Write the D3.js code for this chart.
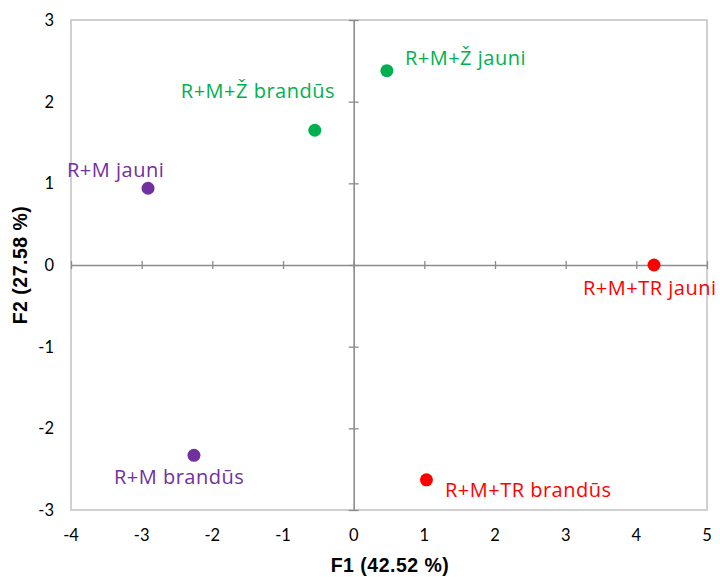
<!DOCTYPE html>
<html>
<head>
<meta charset="utf-8">
<script src="https://cdn.jsdelivr.net/npm/d3@7"></script>
<style>
  html, body { margin: 0; padding: 0; background: #fff; }
  svg { display: block; }
</style>
</head>
<body>
<svg id="chart" width="720" height="577"></svg>
<script>
// Sample groups and their scores on the first two factors
const labels = ["R+M+Ž jauni", "R+M+Ž brandūs", "R+M jauni", "R+M brandūs", "R+M+TR jauni", "R+M+TR brandūs"];
const f1 = [0.47, -0.55, -2.91, -2.26, 4.25, 1.03];
const f2 = [2.38, 1.65, 0.94, -2.33, 0.0, -2.63];
const colors = ["#00b050", "#00b050", "#7030a0", "#7030a0", "#ff0000", "#ff0000"];
const xTicks = [-4, -3, -2, -1, 0, 1, 2, 3, 4, 5];
const yTicks = [-3, -2, -1, 0, 1, 2, 3];
// label offsets relative to each point
const labelDx = [18, -134, -81, -80, -71, 18.5];
const labelDy = [-5.5, -32, -11.5, 28.5, 29.5, 17];

const svg = d3.select("#chart");
const plotL = 71, plotR = 707, plotT = 20, plotB = 510;

const x = d3.scaleLinear().domain([-4, 5]).range([plotL, plotR]);
const y = d3.scaleLinear().domain([-3, 3]).range([plotB, plotT]);

// plot frame
svg.append("rect")
  .attr("x", plotL).attr("y", plotT)
  .attr("width", plotR - plotL).attr("height", plotB - plotT)
  .attr("fill", "none").attr("stroke", "#d0d0d0").attr("stroke-width", 2);

// axes through the origin
const xAxis = d3.axisBottom(x).tickValues(xTicks).tickSize(0).tickFormat("");
const yAxis = d3.axisLeft(y).tickValues(yTicks).tickSize(0).tickFormat("");

const gx = svg.append("g").attr("transform", `translate(0,${y(0)})`).call(xAxis);
const gy = svg.append("g").attr("transform", `translate(${x(0)},0)`).call(yAxis);
[gx, gy].forEach(g => g.select(".domain").attr("stroke", "#8c8c8c").attr("stroke-width", 1.6));

// cross tick marks on the zero axes
gx.selectAll(".tick").append("line")
  .attr("y1", -4).attr("y2", 4).attr("stroke", "#8c8c8c").attr("stroke-width", 1.3);
gy.selectAll(".tick").append("line")
  .attr("x1", -5).attr("x2", 5).attr("stroke", "#8c8c8c").attr("stroke-width", 1.3);

// tick labels along the frame edges
const tickFont = "Lato, 'Open Sans', sans-serif";
const labelFont = "'Open Sans', Lato, sans-serif";
svg.append("g").selectAll("text").data(xTicks).join("text")
  .attr("x", d => x(d)).attr("y", 541)
  .attr("text-anchor", "middle")
  .attr("font-family", tickFont).attr("font-size", 16.5).attr("fill", "#000")
  .text(d => d);
svg.append("g").selectAll("text").data(yTicks).join("text")
  .attr("x", 54).attr("y", d => y(d) + 6)
  .attr("text-anchor", "end")
  .attr("font-family", tickFont).attr("font-size", 16.5).attr("fill", "#000")
  .text(d => d);

// axis titles
svg.append("text")
  .attr("x", 390).attr("y", 572)
  .attr("text-anchor", "middle")
  .attr("font-family", "'Liberation Sans', Arial, sans-serif")
  .attr("font-weight", "bold").attr("font-size", 19.5)
  .attr("letter-spacing", 0.5)
  .text("F1 (42.52 %)");
svg.append("text")
  .attr("transform", `translate(27,${y(0)}) rotate(-90)`)
  .attr("text-anchor", "middle")
  .attr("font-family", "'Liberation Sans', Arial, sans-serif")
  .attr("font-weight", "bold").attr("font-size", 19.5)
  .attr("letter-spacing", 0.5)
  .text("F2 (27.58 %)");

// points
const pts = labels.map((l, i) => ({ label: l, f1: f1[i], f2: f2[i], color: colors[i], dx: labelDx[i], dy: labelDy[i] }));

svg.append("g").selectAll("circle").data(pts).join("circle")
  .attr("cx", d => x(d.f1)).attr("cy", d => y(d.f2))
  .attr("r", 6.5).attr("fill", d => d.color);

// point labels
svg.append("g").selectAll("text").data(pts).join("text")
  .attr("x", d => x(d.f1) + d.dx).attr("y", d => y(d.f2) + d.dy)
  .attr("font-family", labelFont).attr("font-size", 20)
  .attr("letter-spacing", 0.5)
  .attr("fill", d => d.color)
  .text(d => d.label);
</script>
</body>
</html>
